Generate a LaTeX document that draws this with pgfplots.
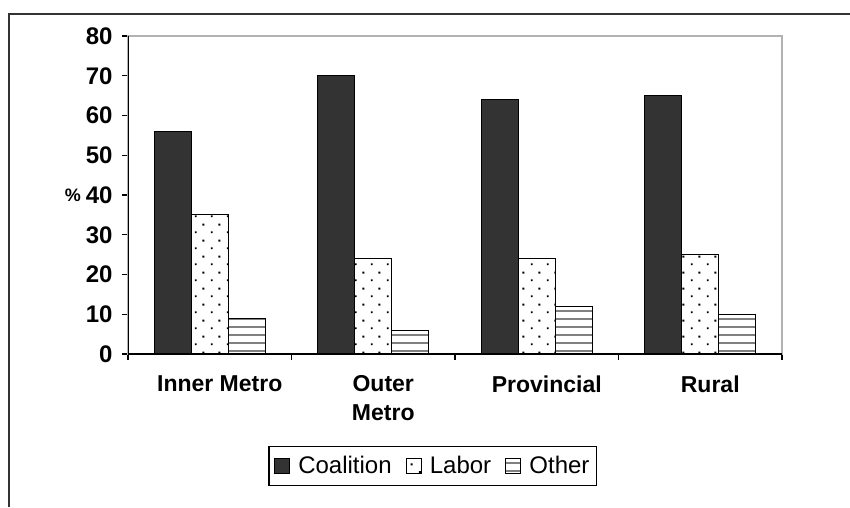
\documentclass[border=0pt]{standalone}
\usepackage{fontspec}
\setmainfont{Liberation Sans}
\usepackage{pgfplots}
\pgfplotsset{compat=1.18}
\usetikzlibrary{patterns}

\pgfdeclarepatternformonly{sdots}{\pgfpoint{0pt}{0pt}}{\pgfpoint{16pt}{16pt}}{\pgfpoint{16pt}{16pt}}{%
  \pgfpathrectangle{\pgfpoint{3pt}{3pt}}{\pgfpoint{2pt}{2pt}}%
  \pgfpathrectangle{\pgfpoint{11pt}{11pt}}{\pgfpoint{2pt}{2pt}}%
  \pgfusepath{fill}}
\pgfdeclarepatternformonly{shlines}{\pgfpoint{-1pt}{0pt}}{\pgfpoint{41pt}{8pt}}{\pgfpoint{40pt}{8pt}}{%
  \pgfpathrectangle{\pgfpoint{-1pt}{3pt}}{\pgfpoint{42pt}{2pt}}%
  \pgfusepath{fill}}

\definecolor{coal}{HTML}{333333}

\begin{document}
\begin{tikzpicture}
\useasboundingbox (0,0) rectangle (850pt,-507pt);
\fill[white] (0,0) rectangle (850pt,-507pt);
\draw[line width=2pt, black!80] (9pt,-507pt) -- (9pt,-14pt) -- (850pt,-14pt);
\begin{axis}[
  at={(128pt,-354pt)}, anchor=south west,
  scale only axis, width=654pt, height=318pt,
  ymin=0, ymax=80, ytick={0,10,...,80},
  xmin=-0.5, xmax=3.5,
  xtick={0,1,2,3},
  xticklabels={Inner Metro, Outer\\Metro, Provincial, Rural},
  minor xtick={-0.5,0.5,1.5,2.5,3.5},
  major x tick style={draw=none},
  xtick pos=bottom, ytick pos=left,
  tick align=outside, major tick length=6pt, minor tick length=6pt,
  every tick/.style={black, line width=1.2pt},
  axis line style={draw=gray!60, line width=1.5pt},
  ybar=0pt, bar width=37pt,
  /pgf/number format/assume math mode=true,
  yticklabel style={font=\bfseries\fontsize{24}{24}\selectfont, xshift=-6pt},
  xticklabel style={font=\bfseries\fontsize{23}{29}\selectfont, align=center, yshift=-12pt, xshift=10pt},
  ylabel={\%},
  ylabel style={rotate=-90, font=\bfseries\fontsize{18}{18}\selectfont, xshift=2pt},
  legend columns=3,
  legend style={at={(rel axis cs:0.466,-0.352)}, anchor=center, draw=black, line width=1.5pt,
    font=\fontsize{24}{24}\selectfont, inner xsep=5pt, inner ysep=8pt,
    /tikz/every even column/.append style={column sep=12pt},
    /tikz/every odd column/.append style={column sep=0pt}},
  legend image code/.code={\draw[#1, line width=1.2pt] (0pt,-7.5pt) rectangle (15pt,7.5pt); \path (21pt,0pt);},
]
\addplot[fill=coal, draw=black, line width=1.2pt] coordinates {(0,56) (1,70) (2,64) (3,65)};
\addplot[pattern=sdots, pattern color=black, draw=black, line width=1.2pt] coordinates {(0,35) (1,24) (2,24) (3,25)};
\addplot[pattern=shlines, pattern color=gray, draw=black, line width=1.2pt] coordinates {(0,9) (1,6) (2,12) (3,10)};
\legend{Coalition, Labor, Other}
\draw[black, line width=1.5pt] (rel axis cs:0,1) -- (rel axis cs:0,0) -- (rel axis cs:1,0);
\end{axis}
\end{tikzpicture}
\end{document}
